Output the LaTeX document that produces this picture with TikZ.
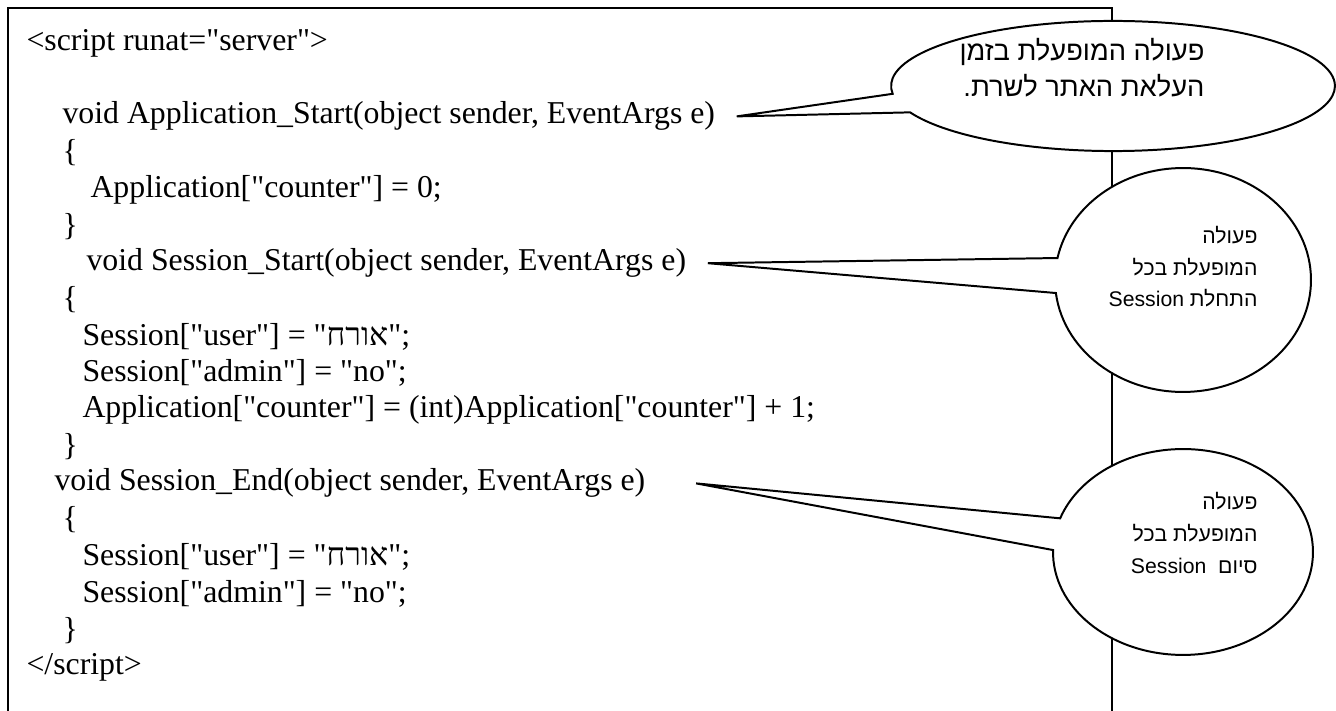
\documentclass[tikz,border=0pt]{standalone}
\usepackage{fontspec}
\setmainfont{Liberation Serif}[Ligatures=TeXOff]
\newfontfamily\hebserif[Script=Hebrew]{Liberation Serif}
\newfontfamily\bubblefont[Script=Hebrew]{Liberation Sans}
\TeXXeTstate=1
\usetikzlibrary{shapes.callouts,positioning}
\newcommand{\heb}[1]{{\hebserif\beginR#1\endR}}

\begin{document}
\begin{tikzpicture}[x=0.37736pt,y=-0.37736pt]
  \tikzstyle{codeline}=[anchor=west,inner sep=0pt,font=\fontsize{12}{14}\selectfont]
  \tikzstyle{bubble}=[ellipse callout,draw,fill=white,line width=0.75pt,inner sep=0pt]
  \tikzstyle{bubbletext}=[anchor=east,inner sep=0pt,align=right]

  \useasboundingbox (0,0) rectangle (1336,711);
  \draw[line width=0.8pt] (8,711) |- (1112,8) -- (1112,711);

  % code lines: slot / x / text
  \foreach \slot/\xpos/\src in {0/26/{<script runat="server">},
      2/62/{void Application\_Start(object sender, EventArgs e)}, 3/62/{\{},
      4/90/{Application["counter"] = 0;}, 5/62/{\}},
      6/86/{void Session\_Start(object sender, EventArgs e)}, 7/62/{\{},
      8/82/{Session["user"] = "\heb{אורח}";}, 9/82/{Session["admin"] = "no";},
      10/82/{Application["counter"] = (int)Application["counter"] + 1;}, 11/62/{\}},
      12/54/{void Session\_End(object sender, EventArgs e)}, 13/62/{\{},
      14/82/{Session["user"] = "\heb{אורח}";}, 15/82/{Session["admin"] = "no";},
      16/62/{\}}, 17/26/{</script>}}
    \node[codeline] (line-\slot) at (\xpos,{43+36.7*\slot}) {\src};

  % callouts
  \node[bubble,minimum width=167.5pt,minimum height=49.1pt,callout pointer arc=17,
        callout absolute pointer={([xshift=8pt]line-2.east)}] (bubble-app) at (1113,86) {};
  \node[bubbletext,font=\bubblefont\fontsize{10.3}{13.6}\selectfont] (note-app) at (1205,68)
    {\beginR פעולה המופעלת בזמן\endR\\ \beginR העלאת האתר לשרת.\endR};

  \node[bubble,minimum width=96.6pt,minimum height=84.5pt,callout pointer arc=18,
        callout absolute pointer={([xshift=8pt]line-6.east)}] (bubble-start) at (1183,280) {};
  \node[bubbletext,font=\bubblefont\fontsize{8}{11.9}\selectfont] (note-start) at (1258,267)
    {\beginR פעולה\endR\\ \beginR המופעלת בכל\endR\\ \beginR התחלת \beginL Session\endL\endR};

  \node[bubble,minimum width=98.1pt,minimum height=77.7pt,callout pointer arc=18,
        callout absolute pointer={([xshift=19pt]line-12.east)}] (bubble-end) at (1183,552) {};
  \node[bubbletext,font=\bubblefont\fontsize{8}{11.9}\selectfont] (note-end) at (1258,533)
    {\beginR פעולה\endR\\ \beginR המופעלת בכל\endR\\ \beginR סיום\ \ \beginL Session\endL\endR};
\end{tikzpicture}
\end{document}
